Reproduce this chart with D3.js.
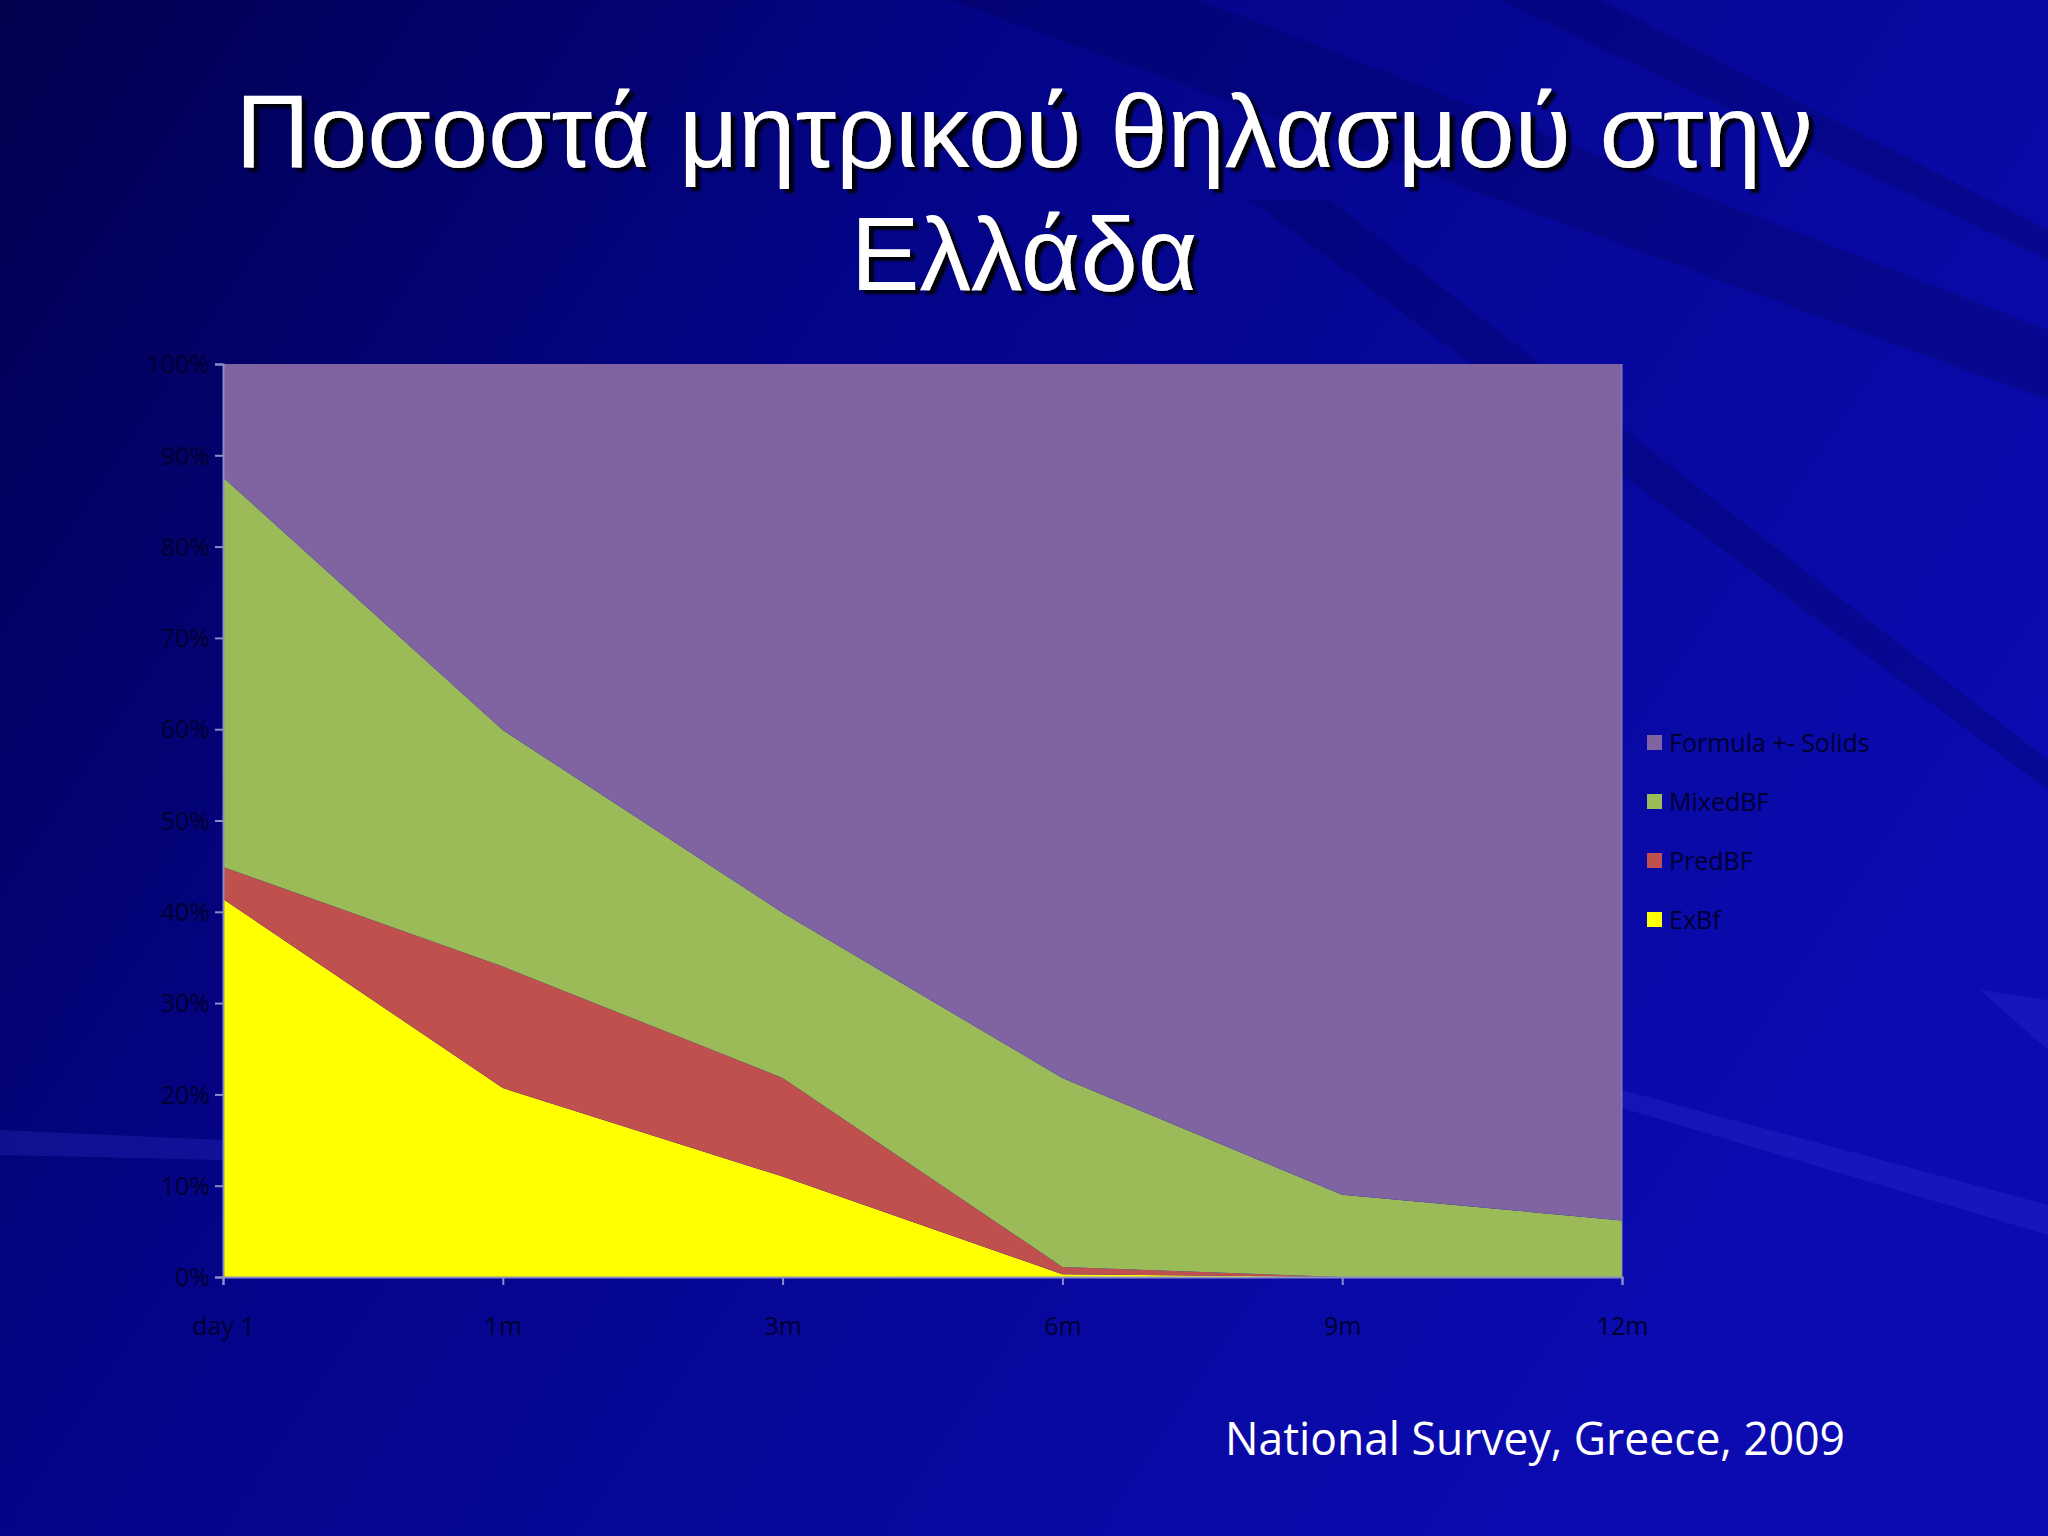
<!DOCTYPE html>
<html>
<head>
<meta charset="utf-8">
<script src="https://cdn.jsdelivr.net/npm/d3@7"></script>
<style>
  html, body { margin: 0; padding: 0; background: #000070; }
  svg { display: block; }
</style>
</head>
<body>
<svg id="slide" width="2048" height="1536"></svg>
<script>
// Données du graphique
const periodes = ["day 1", "1m", "3m", "6m", "9m", "12m"];
const exBf = [41.4, 20.7, 11.0, 0.3, 0, 0];
const predBf = [3.5, 13.3, 10.8, 0.8, 0, 0];
const mixedBf = [42.7, 25.9, 18.1, 20.7, 9.0, 6.2];
const formula = [12.4, 40.1, 60.1, 78.2, 91.0, 93.8];
const series = ["ExBf", "PredBF", "MixedBF", "Formula +- Solids"];
const couleurs = ["#ffff00", "#c0504d", "#9bbb59", "#8064a2"];
const yTicks = [0, 10, 20, 30, 40, 50, 60, 70, 80, 90, 100];

const svg = d3.select("#slide");

// --- fond bleu avec des rayons diagonaux
const defs = svg.append("defs");
const grad = defs.append("linearGradient")
    .attr("id", "fond").attr("x1", "0").attr("y1", "0").attr("x2", "1").attr("y2", "0.5");
grad.append("stop").attr("offset", "0").attr("stop-color", "#00004e");
grad.append("stop").attr("offset", "0.4").attr("stop-color", "#040488");
grad.append("stop").attr("offset", "1").attr("stop-color", "#0b0bb0");
svg.append("rect").attr("width", 2048).attr("height", 1536).attr("fill", "url(#fond)");

const ombre = defs.append("filter").attr("id", "ombre")
    .attr("x", "-5%").attr("y", "-20%").attr("width", "110%").attr("height", "140%");
ombre.append("feDropShadow").attr("dx", 5).attr("dy", 4).attr("stdDeviation", 0.8)
    .attr("flood-color", "#000010").attr("flood-opacity", 1);

// rayons sombres (haut) et clairs (bas droite)
const rayonsSombres = [
    [[950, 0], [1200, 0], [2048, 330], [2048, 400]],
    [[1500, 0], [1600, 0], [2048, 230], [2048, 260]],
    [[1250, 200], [1330, 200], [2048, 760], [2048, 790]]
];
const rayonsClairs = [
    [[1622, 1090], [1622, 1108], [2048, 1235], [2048, 1205]],
    [[1980, 990], [2048, 1000], [2048, 1050]],
    [[0, 1130], [0, 1155], [223, 1160], [223, 1140]]
];
svg.append("g").selectAll("path").data(rayonsSombres).join("path")
    .attr("d", d => "M" + d.join("L") + "Z")
    .attr("fill", "#000040").attr("opacity", 0.22);
svg.append("g").selectAll("path").data(rayonsClairs).join("path")
    .attr("d", d => "M" + d.join("L") + "Z")
    .attr("fill", "#4040e0").attr("opacity", 0.22);

// --- titre
const titre = ["Ποσοστά μητρικού θηλασμού στην", "Ελλάδα"];
svg.append("g").attr("font-family", "Liberation Sans, Arial, sans-serif")
    .attr("font-size", 103).attr("text-anchor", "middle")
    .attr("filter", "url(#ombre)")
    .selectAll("text").data(titre).join("text")
    .attr("x", 1024).attr("y", (d, i) => 167 + i * 123)
    .attr("fill", "#ffffff").text(d => d);

// --- graphique en aires empilées
const marge = {left: 223, top: 364, right: 1622, bottom: 1277};
const x = d3.scalePoint().domain(periodes).range([marge.left, marge.right]);
const y = d3.scaleLinear().domain([0, 100]).range([marge.bottom, marge.top]);

const table = periodes.map((p, i) => ({
    periode: p,
    "ExBf": exBf[i],
    "PredBF": predBf[i],
    "MixedBF": mixedBf[i],
    "Formula +- Solids": formula[i]
}));
const pile = d3.stack().keys(series)(table);

const aire = d3.area()
    .x(d => x(d.data.periode))
    .y0(d => y(d[0]))
    .y1(d => y(Math.min(d[1], 100)));

svg.append("g").selectAll("path").data(pile).join("path")
    .attr("d", aire)
    .attr("fill", (d, i) => couleurs[i]);

// axes
const couleurAxe = "#8c8cc8";
const axeY = svg.append("g")
    .attr("transform", "translate(" + marge.left + ",0)")
    .call(d3.axisLeft(y).tickValues(yTicks).tickFormat(d => d + "%").tickSize(8).tickPadding(5));
const axeX = svg.append("g")
    .attr("transform", "translate(0," + marge.bottom + ")")
    .call(d3.axisBottom(x).tickSize(8).tickPadding(32));
[axeY, axeX].forEach(function (a) {
    a.select(".domain").attr("stroke", couleurAxe).attr("stroke-width", 2);
    a.selectAll(".tick line").attr("stroke", couleurAxe).attr("stroke-width", 2);
    a.selectAll(".tick text").attr("fill", "#000030")
        .attr("font-family", "Open Sans, sans-serif").attr("font-size", 25);
});
axeY.selectAll(".tick text").attr("dy", "0.35em");
// bord droit du tracé
svg.append("line")
    .attr("x1", marge.right).attr("x2", marge.right)
    .attr("y1", y(100)).attr("y2", y(0))
    .attr("stroke", couleurAxe).attr("stroke-width", 1.5).attr("opacity", 0.6);

// --- légende
const legende = svg.append("g").attr("transform", "translate(1647,743)");
const ordreLegende = series.slice().reverse();
ordreLegende.forEach(function (nom, i) {
    const ligne = legende.append("g").attr("transform", "translate(0," + i * 59 + ")");
    ligne.append("rect").attr("x", 0).attr("y", -8).attr("width", 15).attr("height", 15)
        .attr("fill", couleurs[series.indexOf(nom)]);
    ligne.append("text").attr("x", 22).attr("y", 0).attr("dy", "0.35em")
        .attr("fill", "#000030").attr("font-family", "Open Sans, sans-serif")
        .attr("font-size", 25).text(nom);
});

// --- source
svg.append("text")
    .attr("x", 1225).attr("y", 1455)
    .attr("fill", "#ffffff")
    .attr("font-family", "Open Sans, sans-serif")
    .attr("font-size", 45)
    .attr("textLength", 620)
    .attr("lengthAdjust", "spacingAndGlyphs")
    .text("National Survey, Greece, 2009");
</script>
</body>
</html>
